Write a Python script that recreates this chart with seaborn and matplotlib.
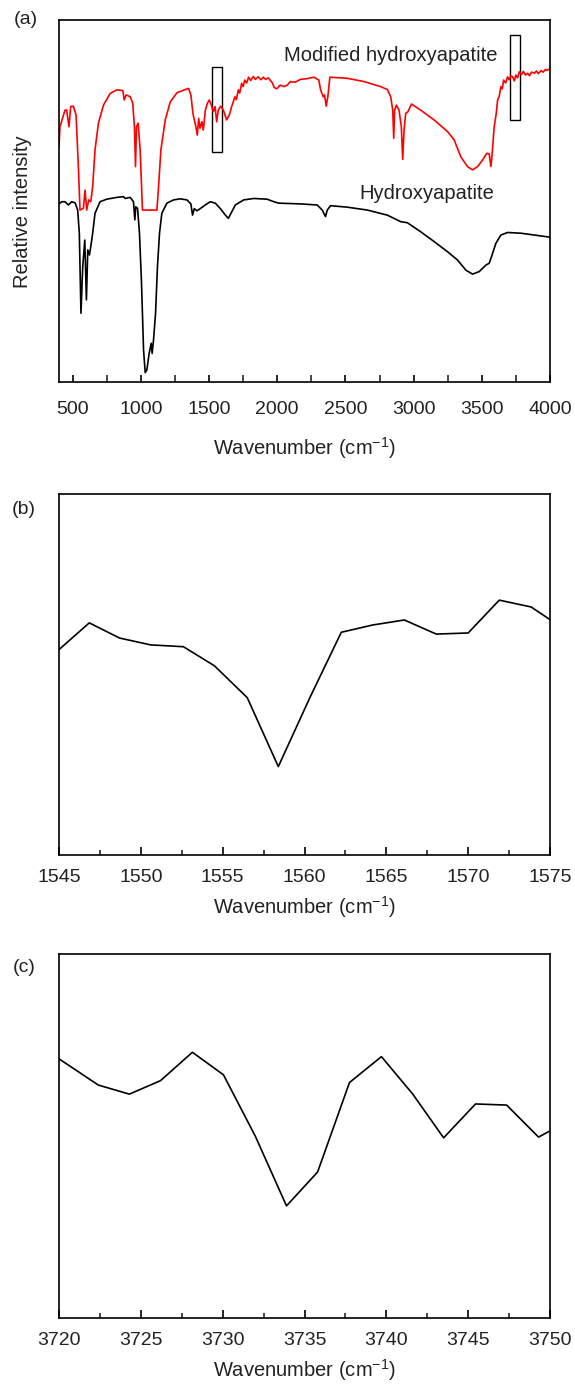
import matplotlib
matplotlib.use("Agg")
import matplotlib.pyplot as plt
import matplotlib.patches as mpatches
from matplotlib.ticker import MultipleLocator
import seaborn as sns
import pandas as pd

# ---------------- data ----------------
# Panel (a): modified hydroxyapatite (red)
mod_x = [400, 407, 444, 456, 473, 486, 505, 525, 542, 554, 579, 591, 603, 618, 633, 647,
         664, 689, 726, 775, 824, 868, 878, 892, 922, 941, 953, 961, 968, 980, 995, 1012,
         1118, 1130, 1147, 1179, 1216, 1265, 1326, 1350, 1367, 1382, 1392, 1404, 1414, 1424,
         1434, 1448, 1458, 1473, 1488, 1502, 1517, 1531, 1544, 1556, 1568, 1585, 1605, 1629,
         1649, 1666, 1690, 1700, 1715, 1725, 1739, 1750, 1762, 1776, 1790, 1805, 1825, 1840,
         1860, 1880, 1898, 1915, 1935, 1952, 1965, 1977, 1996, 2021, 2050, 2073, 2097, 2130,
         2171, 2220, 2269, 2305, 2318, 2337, 2347, 2359, 2371, 2386, 2513, 2636, 2758, 2807,
         2832, 2847, 2854, 2861, 2874, 2893, 2910, 2920, 2930, 2942, 2959, 2984, 3052, 3150,
         3248, 3297, 3346, 3395, 3432, 3469, 3505, 3537, 3554, 3567, 3574, 3591, 3605, 3616,
         3628, 3640, 3650, 3660, 3675, 3689, 3700, 3712, 3726, 3738, 3750, 3762, 3775, 3790,
         3805, 3820, 3836, 3850, 3865, 3885, 3900, 3915, 3934, 3950, 3965, 3980, 4000]
mod_y = [65.0, 70.5, 75.1, 75.1, 70.5, 76.1, 76.2, 73.8, 59.5, 47.5, 48.0, 53.0, 47.5, 50.3, 49.8, 54.0,
         64.1, 71.5, 76.5, 79.7, 80.7, 80.5, 77.9, 79.3, 78.8, 77.0, 70.5, 59.5, 70.5, 71.5, 64.1, 47.5,
         47.5, 54.0, 64.1, 72.4, 77.4, 79.9, 80.8, 81.1, 79.3, 74.2, 72.4, 70.5, 68.2, 72.8,
         70.1, 71.9, 69.6, 75.1, 77.0, 77.9, 76.5, 74.7, 76.1, 71.9, 75.1, 76.2, 75.1, 72.4,
         73.8, 76.1, 78.8, 78.0, 80.7, 79.8, 82.5, 81.6, 83.4, 82.6, 84.2, 83.3, 84.4, 83.6,
         84.3, 83.5, 84.2, 83.6, 84.0, 83.2, 82.6, 81.4, 81.0, 82.0, 81.6, 82.0, 83.0, 82.8,
         83.6, 83.8, 84.2, 83.4, 80.7, 78.8, 79.3, 76.2, 78.8, 84.2, 83.9, 83.0, 81.6, 80.8,
         78.8, 75.1, 67.3, 75.1, 76.5, 75.1, 70.5, 61.5, 69.6, 74.2, 74.7, 76.8, 75.1, 72.4,
         69.2, 66.9, 62.2, 59.5, 58.6, 59.5, 61.3, 63.2, 63.0, 59.5, 62.2, 70.5, 74.0, 77.9,
         79.0, 81.6, 81.0, 83.4, 82.6, 84.3, 83.5, 84.6, 84.3, 83.2, 84.8, 84.0, 85.7, 84.9,
         85.8, 84.8, 85.3, 84.6, 85.6, 85.3, 85.9, 85.2, 86.0, 85.6, 86.3, 86.1, 86.6]

# Panel (a): hydroxyapatite (black)
hap_x = [400, 420, 444, 469, 493, 518, 537, 549, 561, 574, 589, 601, 611, 623, 633, 647,
         664, 701, 750, 824, 873, 885, 922, 946, 956, 963, 976, 990, 1005, 1020, 1032, 1044,
         1061, 1076, 1083, 1093, 1108, 1122, 1137, 1154, 1191, 1240, 1289, 1338, 1367, 1379,
         1392, 1411, 1436, 1472, 1509, 1546, 1583, 1620, 1642, 1661, 1693, 1754, 1828, 1926,
         1975, 2012, 2171, 2293, 2330, 2354, 2367, 2391, 2513, 2660, 2807, 2905, 2954, 3052,
         3150, 3248, 3322, 3383, 3432, 3481, 3530, 3554, 3571, 3603, 3640, 3689, 3787, 3885, 4000]
hap_y = [49.2, 49.8, 49.8, 48.9, 49.8, 49.5, 47.5, 41.1, 19.0, 31.9, 39.2, 22.7, 36.5, 35.1, 37.4, 41.1,
         46.6, 49.8, 50.5, 51.0, 51.2, 50.7, 51.0, 49.8, 44.8, 48.4, 48.0, 41.1, 27.3, 8.8, 2.6, 3.3,
         7.9, 10.7, 7.9, 11.6, 19.0, 31.9, 41.1, 46.6, 49.4, 50.3, 50.6, 50.3, 49.2, 46.1,
         47.9, 47.3, 47.9, 48.9, 49.8, 49.4, 47.9, 46.1, 45.2, 46.6, 48.9, 50.3, 50.7, 50.5,
         49.8, 49.4, 49.2, 48.9, 47.5, 45.7, 47.5, 48.7, 48.3, 47.5, 46.1, 44.3, 44.0, 41.5,
         38.8, 36.0, 33.7, 30.9, 29.8, 30.5, 32.3, 32.8, 34.6, 38.3, 40.6, 41.3, 41.1, 40.6, 40.0]

# Panel (b): 1545-1575 cm-1 region
b_x = [1545.0, 1546.85, 1548.7, 1550.6, 1552.6, 1554.5, 1556.5, 1558.4, 1560.35, 1562.25,
       1564.15, 1566.1, 1568.05, 1570.0, 1571.9, 1573.85, 1575.0]
b_y = [56.9, 64.3, 60.1, 58.2, 57.7, 52.4, 43.6, 24.5, 43.8, 61.7,
       63.7, 65.1, 61.2, 61.5, 70.6, 68.7, 65.2]

# Panel (c): 3720-3750 cm-1 region
c_x = [3720.0, 3722.4, 3724.3, 3726.2, 3728.15, 3730.05, 3732.0, 3733.9, 3735.8, 3737.75,
       3739.7, 3741.6, 3743.5, 3745.45, 3747.35, 3749.3, 3750.0]
c_y = [71.2, 64.0, 61.5, 65.2, 73.0, 66.8, 49.9, 30.8, 40.1, 64.7,
       71.8, 61.6, 49.5, 58.8, 58.5, 49.7, 51.4]

labels_a = ["Modified hydroxyapatite", "Hydroxyapatite"]
panel_tags = ["(a)", "(b)", "(c)"]
xlabel_text = "Wavenumber (cm$^{-1}$)"

# ---------------- styling ----------------
sns.set_style("white")
plt.rcParams["font.family"] = ["Liberation Sans", "DejaVu Sans"]
plt.rcParams["mathtext.fontset"] = "custom"
plt.rcParams["mathtext.rm"] = "Liberation Sans"
plt.rcParams["mathtext.it"] = "Liberation Sans:italic"
plt.rcParams["mathtext.bf"] = "Liberation Sans:bold"

TXT = "#222222"
W, H = 575, 1385
fig = plt.figure(figsize=(W / 100, H / 100), dpi=100)

def ax_rect(left, top, right, bottom):
    return [left / W, 1 - bottom / H, (right - left) / W, (bottom - top) / H]

ax_a = fig.add_axes(ax_rect(59, 20, 550, 382))
ax_b = fig.add_axes(ax_rect(59, 494, 550, 855))
ax_c = fig.add_axes(ax_rect(59, 954, 550, 1318))

df_mod = pd.DataFrame({"x": mod_x, "y": mod_y})
df_hap = pd.DataFrame({"x": hap_x, "y": hap_y})
df_b = pd.DataFrame({"x": b_x, "y": b_y})
df_c = pd.DataFrame({"x": c_x, "y": c_y})

sns.lineplot(data=df_mod, x="x", y="y", ax=ax_a, color="#ff0000", lw=1.2, sort=False, estimator=None)
sns.lineplot(data=df_hap, x="x", y="y", ax=ax_a, color="black", lw=1.2, sort=False, estimator=None)
sns.lineplot(data=df_b, x="x", y="y", ax=ax_b, color="black", lw=1.2, sort=False, estimator=None)
sns.lineplot(data=df_c, x="x", y="y", ax=ax_c, color="black", lw=1.2, sort=False, estimator=None)

# highlight boxes on panel (a)
ax_a.add_patch(mpatches.Rectangle((1519, 63.6), 76, 23.5, fill=False, ec="black", lw=1.0))
ax_a.add_patch(mpatches.Rectangle((3708, 72.4), 69, 23.5, fill=False, ec="black", lw=1.0))

ax_a.text(0.675, 0.903, labels_a[0], transform=ax_a.transAxes, ha="center", va="center", fontsize=14.5, color=TXT)
ax_a.text(0.75, 0.522, labels_a[1], transform=ax_a.transAxes, ha="center", va="center", fontsize=14.5, color=TXT)

ax_a.set_xlim(400, 4000)
ax_a.xaxis.set_major_locator(MultipleLocator(500))
ax_a.xaxis.set_minor_locator(MultipleLocator(250))
ax_b.set_xlim(1545, 1575)
ax_b.xaxis.set_major_locator(MultipleLocator(5))
ax_b.xaxis.set_minor_locator(MultipleLocator(2.5))
ax_c.set_xlim(3720, 3750)
ax_c.xaxis.set_major_locator(MultipleLocator(5))
ax_c.xaxis.set_minor_locator(MultipleLocator(2.5))

for ax in (ax_a, ax_b, ax_c):
    ax.set_ylim(0, 100)
    ax.set_yticks([])
    ax.set_ylabel("")
    for s in ax.spines.values():
        s.set_visible(True)
        s.set_color("black")
        s.set_linewidth(1.2)
    ax.tick_params(axis="x", which="major", direction="in", length=6, width=1.2,
                   labelsize=14, pad=10, colors="black", labelcolor=TXT, bottom=True)
    ax.tick_params(axis="x", which="minor", direction="in", length=3.5, width=1.2, bottom=True)
    ax.set_xlabel(xlabel_text, fontsize=14.5, color=TXT, labelpad=6)

ax_a.tick_params(axis="x", which="minor", length=5)
ax_a.tick_params(axis="x", which="major", length=5, pad=14)
ax_a.xaxis.labelpad = 12
ax_a.set_xticks([500, 1000, 1500, 2000, 2500, 3000, 3500, 4000])
ax_a.set_ylabel("Relative intensity", fontsize=14.5, color=TXT)
ax_a.yaxis.set_label_coords(-0.055, 0.47)

fig.text(26 / W, 1 - 20 / H, panel_tags[0], ha="center", va="center", fontsize=14, color=TXT)
fig.text(24 / W, 1 - 510 / H, panel_tags[1], ha="center", va="center", fontsize=14, color=TXT)
fig.text(24 / W, 1 - 967 / H, panel_tags[2], ha="center", va="center", fontsize=14, color=TXT)

fig.savefig("out.png", dpi=100)
